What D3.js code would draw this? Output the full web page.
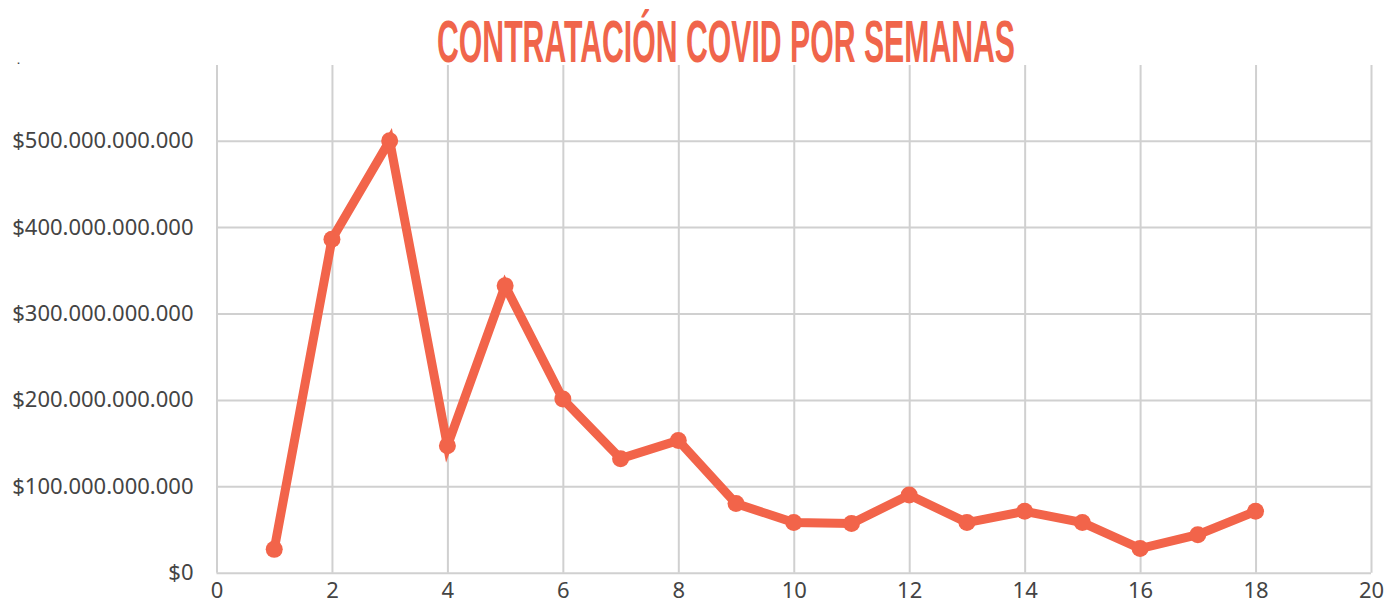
<html>
<head>
<script src="https://d3js.org/d3.v7.min.js"></script>
<style>
  * { margin: 0; padding: 0; }
  body { background: #fff; }
  .tick-label { font-family: 'Noto Sans'; font-size: 22px; fill: #444; }
  .grid line { stroke: #d0d0d0; stroke-width: 2; }
  .domain { display: none; }
</style>
</head>
<body>
<div id="chart"></div>
<script>
// semanas y valor contratado (pesos)
var weeks = [1, 2, 3, 4, 5, 6, 7, 8, 9, 10, 11, 12, 13, 14, 15, 16, 17, 18];
var amounts = [27e9, 386e9, 500e9, 147e9, 332e9, 201e9, 132e9, 153e9, 80e9, 58e9, 57e9, 90e9, 58e9, 71e9, 58e9, 28e9, 44e9, 71e9];
var xTicks = [0, 2, 4, 6, 8, 10, 12, 14, 16, 18, 20];
var yTicks = [0, 100e9, 200e9, 300e9, 400e9, 500e9, 600e9];
var title = 'CONTRATACIÓN COVID POR SEMANAS';

var width = 1389, height = 608;
var plotTop = 65;

var svg = d3.select('#chart').append('svg')
  .attr('width', width)
  .attr('height', height);

var x = d3.scaleLinear().domain([0, 20]).range([216.5, 1371]);
var y = d3.scaleLinear().domain([0, 600e9]).range([572.7, 54.3]);

svg.append('clipPath').attr('id', 'clip')
  .append('rect')
  .attr('x', 0).attr('y', 62.5)
  .attr('width', width).attr('height', height - 62.5);

var money = function (v) {
  return '$' + d3.format(',')(v).replace(/,/g, '.');
};

var area = svg.append('g').attr('clip-path', 'url(#clip)');

// horizontal grid + y labels
var yAxis = d3.axisLeft(y)
  .tickValues(yTicks)
  .tickSize(-(x.range()[1] - x.range()[0]))
  .tickPadding(23)
  .tickFormat(money);

area.append('g')
  .attr('class', 'grid')
  .attr('transform', 'translate(' + x(0) + ',0)')
  .call(yAxis)
  .call(function (g) {
    g.selectAll('text').attr('class', 'tick-label');
  });

// vertical grid + x labels
var xAxis = d3.axisBottom(x)
  .tickValues(xTicks)
  .tickSize(-(y(0) - plotTop))
  .tickPadding(9)
  .tickFormat(d3.format('d'));

svg.append('g')
  .attr('class', 'grid')
  .attr('transform', 'translate(0,' + y(0) + ')')
  .call(xAxis)
  .call(function (g) {
    g.selectAll('text').attr('class', 'tick-label').attr('dy', '0.72em');
  });

// line
var line = d3.line()
  .x(function (d, i) { return x(weeks[i]); })
  .y(function (d) { return y(d); });

svg.append('path')
  .datum(amounts)
  .attr('d', line)
  .attr('fill', 'none')
  .attr('stroke', '#f2644a')
  .attr('stroke-width', 9)
  .attr('stroke-linejoin', 'miter')
  .attr('stroke-miterlimit', 4);

svg.selectAll('circle.dot')
  .data(amounts)
  .enter()
  .append('circle')
  .attr('class', 'dot')
  .attr('cx', function (d, i) { return x(weeks[i]); })
  .attr('cy', function (d) { return y(d); })
  .attr('r', 8.5)
  .attr('fill', '#f2644a');

// title
svg.append('text')
  .attr('x', 437)
  .attr('y', 62)
  .attr('textLength', 578)
  .attr('lengthAdjust', 'spacingAndGlyphs')
  .style('font-family', "'Liberation Sans Narrow', 'Liberation Sans'")
  .style('font-weight', 'bold')
  .style('font-size', '60px')
  .style('fill', '#f0654b')
  .text(title);
</script>
</body>
</html>
